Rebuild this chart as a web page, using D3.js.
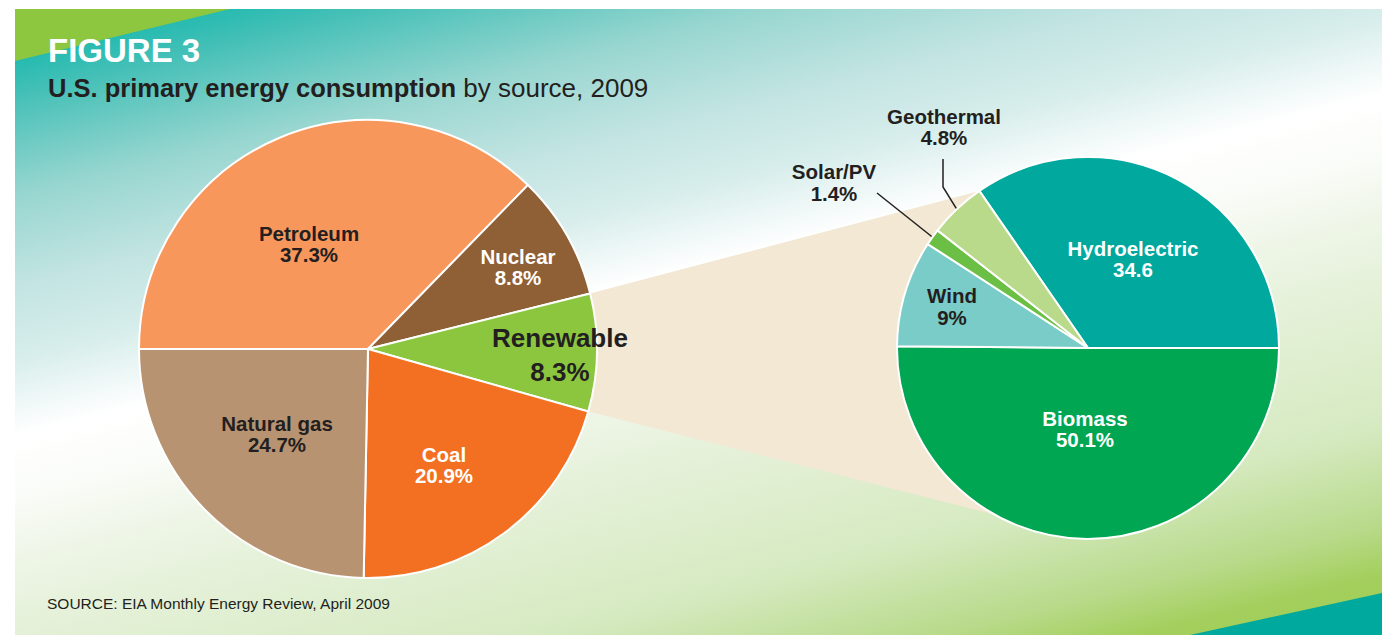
<!DOCTYPE html>
<html>
<head>
<meta charset="utf-8">
<script src="https://cdn.jsdelivr.net/npm/d3@7"></script>
<style>
    body { margin: 0; background: #fff; }
    svg { display: block; font-family: "Liberation Sans", Arial, Helvetica, sans-serif; }
</style>
</head>
<body>
<svg id="chart" width="1382" height="635"></svg>
<script>
// main pie: US primary energy by source, 2009 (%)
const energySources = ["Petroleum", "Nuclear", "Renewable", "Coal", "Natural gas"];
const energyShares = [37.3, 8.8, 8.3, 20.9, 24.7];
const energyColors = ["#f7975b", "#8f5f35", "#8cc63f", "#f36f21", "#b89371"];

// breakdown of the renewable slice (%)
const renewSources = ["Hydroelectric", "Biomass", "Wind", "Solar/PV", "Geothermal"];
const renewShares = [34.6, 50.1, 9, 1.4, 4.8];
const renewText = ["34.6", "50.1%", "9%", "1.4%", "4.8%"];
const renewColors = ["#00a89d", "#00a651", "#7accc8", "#6bbf44", "#b9da8b"];

const svg = d3.select("#chart");
const W = 1382, H = 635;
const dark = "#231f20";

// background panel with diagonal teal -> white -> green wash
const defs = svg.append("defs");
const grad = defs.append("linearGradient")
    .attr("id", "bg")
    .attr("gradientUnits", "userSpaceOnUse")
    .attr("x1", 0).attr("y1", 0)
    .attr("x2", 235).attr("y2", 941);
[
    [0, "#00b2a6"], [0.03, "#08b5aa"], [0.10, "#45c0b7"], [0.20, "#98d6d0"],
    [0.29, "#c2e4e2"], [0.36, "#d6edeb"], [0.44, "#ffffff"], [0.50, "#fafcf8"],
    [0.56, "#eff6e8"], [0.63, "#e5f1d9"], [0.77, "#d6eac1"], [0.87, "#b8da8a"],
    [0.92, "#a4cf5d"], [1, "#9ccb50"]
].forEach(s => grad.append("stop").attr("offset", s[0]).attr("stop-color", s[1]));

svg.append("rect")
    .attr("x", 15).attr("y", 9)
    .attr("width", W - 15).attr("height", H - 9)
    .attr("fill", "url(#bg)");

// corner stripes
svg.append("polygon")
    .attr("points", "15,9 230,9 15,61")
    .attr("fill", "#8dc63f");
svg.append("polygon")
    .attr("points", `1190,${H} ${W},593 ${W},${H}`)
    .attr("fill", "#00a99d");

// pies
const main = { cx: 368, cy: 349, r: 229 };
const side = { cx: 1088, cy: 348, r: 191 };

const mainData = energySources.map((s, i) => ({ name: s, value: energyShares[i], color: energyColors[i] }));
const sideData = renewSources.map((s, i) => ({ name: s, value: renewShares[i], text: renewText[i], color: renewColors[i] }));

const mainArcs = d3.pie().sort(null).value(d => d.value)
    .startAngle(-Math.PI / 2).endAngle(Math.PI * 1.5)(mainData);

// hydro slice ends at 3 o'clock
const sideStart = Math.PI / 2 - 2 * Math.PI * renewShares[0] / d3.sum(renewShares);
const sideArcs = d3.pie().sort(null).value(d => d.value)
    .startAngle(sideStart).endAngle(sideStart + 2 * Math.PI)(sideData);

const onCircle = (p, a, r) => [p.cx + r * Math.sin(a), p.cy - r * Math.cos(a)];

// beige wedge linking the renewable slice with the breakdown pie
const ren = mainArcs[2];
const topRight = onCircle(side, sideArcs[0].startAngle, side.r);
const botRight = onCircle(side, Math.PI + 0.51, side.r);
svg.append("path")
    .attr("d", d3.line()([
        onCircle(main, ren.startAngle, main.r - 2),
        topRight,
        [side.cx, side.cy],
        botRight,
        onCircle(main, ren.endAngle, main.r - 2)
    ]) + "Z")
    .attr("fill", "#f2e8d3");

const drawPie = (p, arcs) => {
    const arc = d3.arc().innerRadius(0).outerRadius(p.r);
    svg.append("g")
        .attr("transform", `translate(${p.cx},${p.cy})`)
        .selectAll("path")
        .data(arcs)
        .join("path")
        .attr("d", arc)
        .attr("fill", d => d.data.color)
        .attr("stroke", "#fff")
        .attr("stroke-width", 2)
        .attr("stroke-linejoin", "round");
};
drawPie(main, mainArcs);
drawPie(side, sideArcs);

// leader lines for the thin slices
const leaders = {
    "Solar/PV": [[877, 193]],
    "Geothermal": [[943, 159], [943, 187]]
};
sideArcs.forEach(d => {
    const pts = leaders[d.data.name];
    if (!pts) return;
    const mid = (d.startAngle + d.endAngle) / 2;
    svg.append("path")
        .attr("d", d3.line()(pts.concat([onCircle(side, mid, side.r + 1)])))
        .attr("fill", "none")
        .attr("stroke", dark)
        .attr("stroke-width", 1.5);
});

// label layout: [x, baseline of name, baseline of value, colour, size]
const labelPos = {
    "Petroleum": [309, 241, 262, dark, 20.5],
    "Nuclear": [518, 264, 285, "#fff", 20.5],
    "Renewable": [560, 347, 381, dark, 26],
    "Coal": [444, 462, 483, "#fff", 20.5],
    "Natural gas": [277, 431, 452, dark, 20.5],
    "Hydroelectric": [1133, 256, 277, "#fff", 20.5],
    "Biomass": [1085, 426, 447, "#fff", 20.5],
    "Wind": [952, 303, 325, dark, 20.5],
    "Solar/PV": [834, 179, 201, dark, 20.5],
    "Geothermal": [944, 124, 145, dark, 20.5]
};

const labels = mainArcs.map(d => ({ name: d.data.name, text: d.data.value + "%" }))
    .concat(sideArcs.map(d => ({ name: d.data.name, text: d.data.text })));

const lg = svg.append("g")
    .attr("text-anchor", "middle")
    .attr("font-weight", "bold");
labels.forEach(l => {
    const [x, y1, y2, col, fs] = labelPos[l.name];
    lg.append("text").attr("x", x).attr("y", y1)
        .attr("fill", col).attr("font-size", fs).text(l.name);
    lg.append("text").attr("x", x).attr("y", y2)
        .attr("fill", col).attr("font-size", fs).text(l.text);
});

// titles
svg.append("text")
    .attr("x", 48).attr("y", 62)
    .attr("fill", "#fff")
    .attr("font-size", 33)
    .attr("font-weight", "bold")
    .text("FIGURE 3");

const sub = svg.append("text")
    .attr("x", 48).attr("y", 97)
    .attr("fill", dark)
    .attr("font-size", 25.5);
sub.append("tspan").attr("font-weight", "bold").text("U.S. primary energy consumption");
sub.append("tspan").attr("font-size", 26).text(" by source, 2009");

svg.append("text")
    .attr("x", 47).attr("y", 609)
    .attr("fill", dark)
    .attr("font-size", 15.5)
    .text("SOURCE: EIA Monthly Energy Review, April 2009");
</script>
</body>
</html>
